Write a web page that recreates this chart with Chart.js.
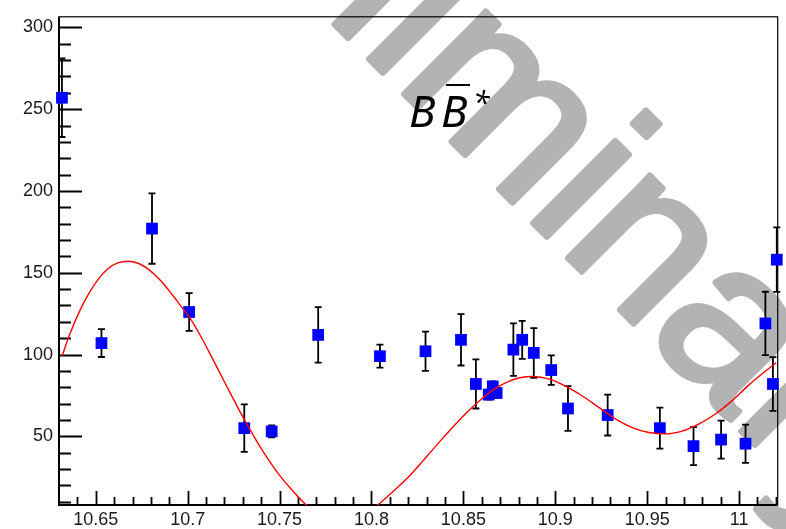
<!DOCTYPE html>
<html><head><meta charset="utf-8">
<script src="https://cdn.jsdelivr.net/npm/chart.js@4.4.1/dist/chart.umd.min.js"></script>
<style>html,body{margin:0;padding:0;background:#fff;}canvas{display:block;}</style>
</head><body>
<canvas id="c" width="786" height="529"></canvas>
<script>
// ---- data ----
const massX = [10.6316, 10.6531, 10.6806, 10.7008, 10.7308, 10.7457, 10.7710, 10.8046, 10.8294, 10.8487, 10.8568, 10.8638, 10.8660, 10.8681, 10.8772, 10.8820, 10.8883, 10.8978, 10.9069, 10.9285, 10.9569, 10.9752, 10.9902, 11.0035, 11.0143, 11.0184, 11.0205];
const yieldY = [257, 107, 177, 126, 55, 53, 112, 99, 102, 109, 82, 75.5, 80.5, 76.5, 103, 109, 101, 90.5, 67, 63, 55, 44, 48, 45.5, 119, 82, 158];
const yieldErr = [24, 8.5, 21.5, 11.5, 14.5, 3.7, 17, 7, 12, 15.7, 15, 3, 3, 3, 16, 11.6, 15.2, 9, 13.7, 12.5, 12.5, 11.6, 11.6, 11.7, 19.4, 16.4, 19.7];

const fitX = [10.6318, 10.6350, 10.6414, 10.6458, 10.6513, 10.6566, 10.6620, 10.6675, 10.6730, 10.6782, 10.6855, 10.6927, 10.6954, 10.7008, 10.7062, 10.7133, 10.7206, 10.7278, 10.7332, 10.7403, 10.7494, 10.7565, 10.7656, 10.7845, 10.8033, 10.8105, 10.8213, 10.8303, 10.8393, 10.8466, 10.8537, 10.8591, 10.8664, 10.8735, 10.8807, 10.8879, 10.8969, 10.9059, 10.9149, 10.9239, 10.9329, 10.9419, 10.9509, 10.9599, 10.9690, 10.9780, 10.9869, 10.9959, 11.0049, 11.0139, 11.0202];
const fitY = [99.2, 110, 127, 136.5, 146, 152.5, 156, 157, 155.8, 152.5, 145, 135, 131, 123, 113, 98, 82, 66.5, 55.5, 42, 27, 17.5, 7, -4, 8, 15, 26.5, 38, 49.5, 58.5, 66.5, 72, 78.5, 83, 85.8, 86.6, 85, 80.5, 74.5, 67.5, 60.5, 55.3, 52.3, 51.5, 53.2, 57.5, 63.5, 71.5, 81, 89.5, 95];

const xTickValues = [10.65, 10.7, 10.75, 10.8, 10.85, 10.9, 10.95, 11.0];
const xTickLabels = ["10.65", "10.7", "10.75", "10.8", "10.85", "10.9", "10.95", "11"];
const yTickValues = [50, 100, 150, 200, 250, 300];
const yTickLabels = ["50", "100", "150", "200", "250", "300"];

const X_MIN = 10.630, X_MAX = 11.021, Y_MIN = 8, Y_MAX = 306.5;

const pts = massX.map((x, i) => ({x: x, y: yieldY[i]}));
const fit = fitX.map((x, i) => ({x: x, y: fitY[i]}));

const watermark = {
  id: 'watermark',
  beforeDraw(chart) {
    const ctx = chart.ctx;
    ctx.save();
    ctx.fillStyle = '#fff';
    ctx.fillRect(0, 0, chart.width, chart.height);
    ctx.translate(82, -228);
    ctx.rotate(Math.PI / 4);
    ctx.font = '220px "Liberation Sans"';
    ctx.fillStyle = '#b3b3b3';
    ctx.strokeStyle = '#b3b3b3';
    ctx.lineWidth = 6;
    ctx.lineJoin = 'round';
    ctx.textBaseline = 'alphabetic';
    ctx.fillText('Preliminary', 0, 0);
    ctx.strokeText('Preliminary', 0, 0);
    ctx.restore();
  }
};

const frameAndBars = {
  id: 'frameAndBars',
  beforeDatasetsDraw(chart) {
    const ctx = chart.ctx, a = chart.chartArea;
    const xs = chart.scales.x, ys = chart.scales.y;
    ctx.save();
    ctx.strokeStyle = '#000';
    // frame
    ctx.lineWidth = 1.2;
    ctx.strokeRect(a.left, a.top, a.right - a.left, a.bottom - a.top);
    ctx.lineWidth = 2;
    ctx.beginPath();
    ctx.moveTo(a.left, a.top); ctx.lineTo(a.left, a.bottom); ctx.lineTo(a.right, a.bottom);
    ctx.stroke();
    // y ticks
    ctx.lineWidth = 1.8;
    ctx.beginPath();
    for (let v = 10; v <= Y_MAX; v += 10) {
      const p = Math.round(ys.getPixelForValue(v)) + 0.5;
      const len = yTickValues.includes(v) ? 23 : 12;
      ctx.moveTo(a.left, p); ctx.lineTo(a.left + len, p);
    }
    // x ticks
    for (let k = 1064; k <= 1102; k++) {
      const v = k / 100;
      const p = Math.round(xs.getPixelForValue(v)) + 0.5;
      const major = (k % 5 === 0);
      const len = major ? 14 : 8;
      ctx.moveTo(p, a.bottom); ctx.lineTo(p, a.bottom - len);
    }
    ctx.stroke();
    // error bars
    ctx.lineWidth = 1.8;
    ctx.beginPath();
    massX.forEach((x, i) => {
      const px = xs.getPixelForValue(x);
      const yt = ys.getPixelForValue(yieldY[i] + yieldErr[i]);
      const yb = ys.getPixelForValue(yieldY[i] - yieldErr[i]);
      ctx.moveTo(px, yt); ctx.lineTo(px, yb);
      ctx.moveTo(px - 3.5, yt); ctx.lineTo(px + 3.5, yt);
      ctx.moveTo(px - 3.5, yb); ctx.lineTo(px + 3.5, yb);
    });
    ctx.stroke();
    ctx.restore();
  },
  afterDraw(chart) {
    const ctx = chart.ctx;
    ctx.save();
    ctx.fillStyle = '#000';
    ctx.strokeStyle = '#000';
    ctx.textBaseline = 'alphabetic';
    ctx.font = 'italic 44px "Noto Sans"';
    ctx.fillText('B', 409, 127);
    ctx.fillText('B', 441, 127);
    ctx.lineWidth = 2;
    ctx.beginPath();
    ctx.moveTo(446, 85); ctx.lineTo(470, 85);
    ctx.stroke();
    ctx.font = 'italic 30px "Noto Sans"';
    ctx.fillText('*', 473, 114);
    ctx.restore();
  }
};

new Chart(document.getElementById('c'), {
  type: 'scatter',
  data: {
    datasets: [
      {
        label: 'fit', data: fit, showLine: true, borderColor: '#ff0000', borderWidth: 1.4,
        pointRadius: 0, cubicInterpolationMode: 'monotone', order: 0
      },
      {
        label: 'data', data: pts, pointStyle: 'rect', pointRadius: 8.3, backgroundColor: '#0000ff',
        borderWidth: 0, clip: false, order: 1
      }
    ]
  },
  options: {
    responsive: false, animation: false,
    layout: {padding: {top: 14, right: 3, left: 0, bottom: 0}},
    plugins: {legend: {display: false}, tooltip: {enabled: false}},
    scales: {
      x: {
        type: 'linear', min: X_MIN, max: X_MAX,
        grid: {display: false, drawTicks: false}, border: {display: false},
        afterBuildTicks: s => { s.ticks = xTickValues.map(v => ({value: v})); },
        afterFit: s => { s.height = 24; },
        ticks: {
          autoSkip: false, maxRotation: 0, padding: 4, color: '#1a1a1a',
          font: {family: '"Liberation Sans", Arial, sans-serif', size: 18},
          callback: (v, i) => xTickLabels[i]
        }
      },
      y: {
        type: 'linear', min: Y_MIN, max: Y_MAX,
        grid: {display: false, drawTicks: false}, border: {display: false},
        afterBuildTicks: s => { s.ticks = yTickValues.map(v => ({value: v})); },
        afterFit: s => { s.width = 59; },
        ticks: {
          padding: 6, color: '#1a1a1a',
          font: {family: '"Liberation Sans", Arial, sans-serif', size: 18},
          callback: (v, i) => yTickLabels[i]
        }
      }
    }
  },
  plugins: [watermark, frameAndBars]
});
</script>
</body></html>
